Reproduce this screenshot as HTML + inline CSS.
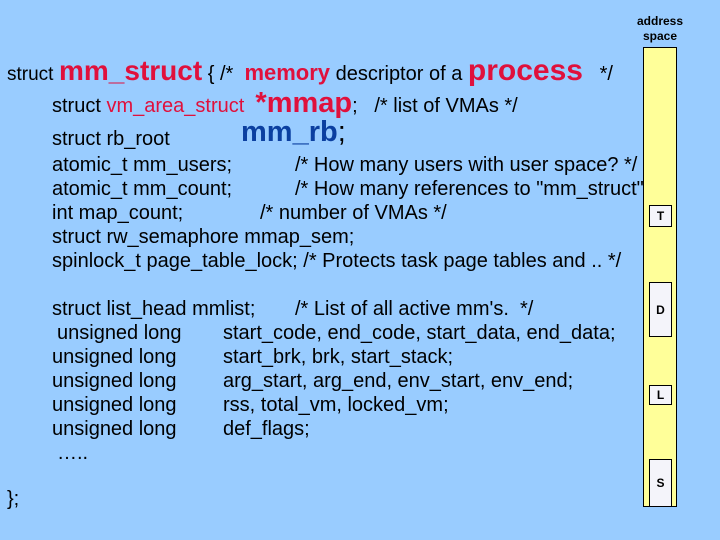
<!DOCTYPE html>
<html><head><style>
body{margin:0;width:720px;height:540px;background:#99ccff;position:relative;overflow:hidden;font-family:"Liberation Sans",Arial,sans-serif;color:#000}
.t{position:absolute;white-space:pre;font-size:20px;line-height:1}
.r{color:#e0103c}.b{color:#0b3fa0}
.col{position:absolute;left:643px;top:47px;width:34px;height:460px;background:#ffff99;border:1px solid #000;box-sizing:border-box}
.bx{position:absolute;left:649px;width:23px;background:#f4f4fa;border:1px solid #000;box-sizing:border-box;font-weight:bold;font-size:12px;display:flex;align-items:center;justify-content:center}
</style></head><body>
<div class="t" style="left:634px;top:14px;font-size:12px;font-weight:bold;text-align:center;width:52px;line-height:15px">address<br>space</div>
<div class="col"></div>
<div class="bx" style="top:205px;height:22px">T</div>
<div class="bx" style="top:282px;height:55px">D</div>
<div class="bx" style="top:385px;height:20px">L</div>
<div class="bx" style="top:459px;height:48px">S</div>

<div class="t" style="left:7px;top:56px"><span style="font-size:19px">struct</span> <span class="r" style="font-size:28px;font-weight:bold">mm_struct</span> { /*  <span class="r" style="font-size:22px;font-weight:bold">memory</span> descriptor of a <span class="r" style="font-size:30px;font-weight:bold">process</span>   */</div>
<div class="t" style="left:52px;top:89px">struct <span class="r">vm_area_struct</span>  <span class="r" style="font-size:29px;font-weight:bold">*mmap</span>;   /* list of VMAs */</div>
<div class="t" style="left:52px;top:129px">struct rb_root</div>
<div class="t b" style="left:241px;top:118px;font-size:29px;font-weight:bold">mm_rb<span style="color:#000;font-weight:normal">;</span></div>
<div class="t" style="left:52px;top:155px">atomic_t mm_users;</div><div class="t" style="left:295px;top:155px">/* How many users with user space? */</div>
<div class="t" style="left:52px;top:179px">atomic_t mm_count;</div><div class="t" style="left:295px;top:179px">/* How many references to "mm_struct"</div>
<div class="t" style="left:52px;top:203px">int map_count;</div><div class="t" style="left:260px;top:203px">/* number of VMAs */</div>
<div class="t" style="left:52px;top:227px">struct rw_semaphore mmap_sem;</div>
<div class="t" style="left:52px;top:251px">spinlock_t page_table_lock; /* Protects task page tables and .. */</div>
<div class="t" style="left:52px;top:299px">struct list_head mmlist;</div><div class="t" style="left:295px;top:299px">/* List of all active mm's.  */</div>
<div class="t" style="left:57px;top:323px">unsigned long</div><div class="t" style="left:223px;top:323px">start_code, end_code, start_data, end_data;</div>
<div class="t" style="left:52px;top:347px">unsigned long</div><div class="t" style="left:223px;top:347px">start_brk, brk, start_stack;</div>
<div class="t" style="left:52px;top:371px">unsigned long</div><div class="t" style="left:223px;top:371px">arg_start, arg_end, env_start, env_end;</div>
<div class="t" style="left:52px;top:395px">unsigned long</div><div class="t" style="left:223px;top:395px">rss, total_vm, locked_vm;</div>
<div class="t" style="left:52px;top:419px">unsigned long</div><div class="t" style="left:223px;top:419px">def_flags;</div>
<div class="t" style="left:57px;top:443px">…..</div>
<div class="t" style="left:7px;top:489px">};</div>
</body></html>
